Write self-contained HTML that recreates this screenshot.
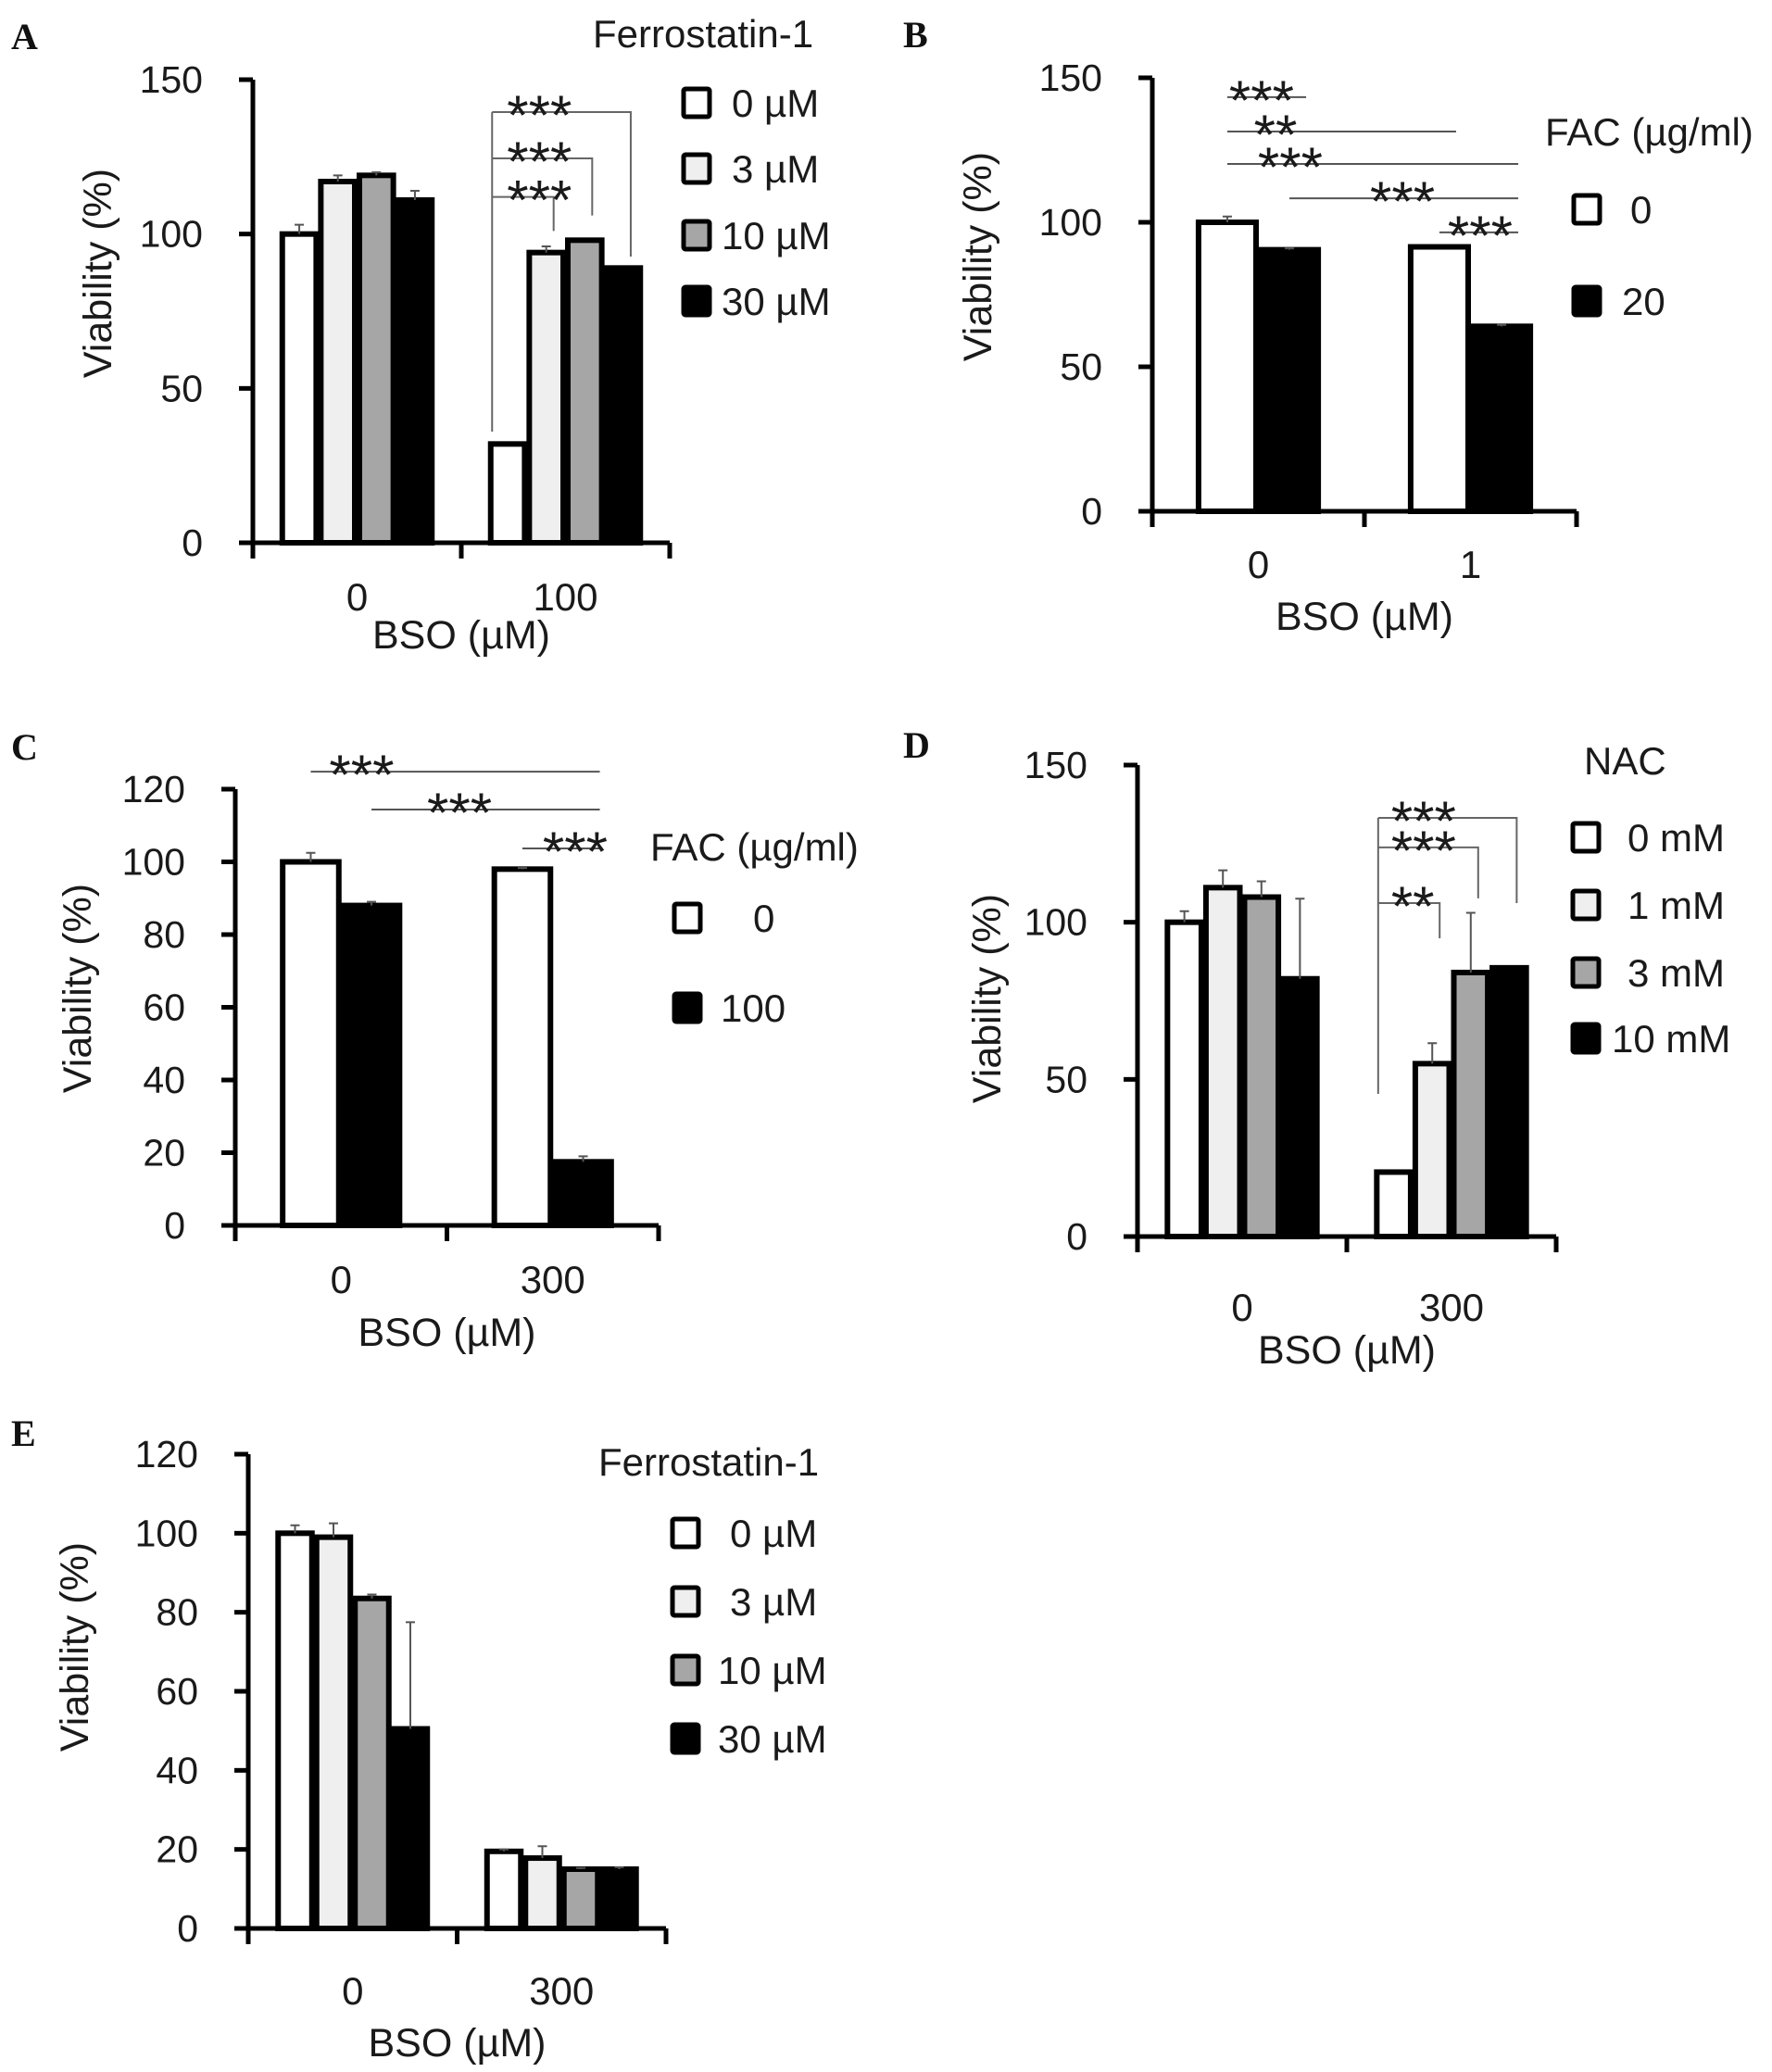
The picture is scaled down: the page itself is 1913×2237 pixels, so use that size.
<!DOCTYPE html>
<html><head><meta charset="utf-8">
<style>
html,body{margin:0;padding:0;background:#fff;}
svg{display:block;}
text{font-family:"Liberation Sans","DejaVu Sans",sans-serif;fill:#1a1a1a;}
.pl{font-family:"Liberation Serif",serif;font-weight:bold;font-size:40px;fill:#111;}
</style></head>
<body>
<svg id="fig" width="1913" height="2237" viewBox="0 0 1913 2237" xmlns="http://www.w3.org/2000/svg"></svg>
<script>
// ---- Panel A data ----
const aCategories=['0','100'];
const aSeries=['0 µM','3 µM','10 µM','30 µM'];
const aVals0=[100,32]; const aVals1=[117,94]; const aVals2=[119,98]; const aVals3=[111,89];
const aErr0=[3,0]; const aErr1=[2,2]; const aErr2=[1,0]; const aErr3=[3,0];
const aTicks=[0,50,100,150];
// ---- Panel B data ----
const bCategories=['0','1'];
const bSeries=['0','20'];
const bVals0=[100,91.5]; const bVals1=[90.5,64];
const bErr0=[2,0]; const bErr1=[0.5,0.5];
const bTicks=[0,50,100,150];
// ---- Panel C data ----
const cCategories=['0','300'];
const cSeries=['0','100'];
const cVals0=[100,98]; const cVals1=[88,17.5];
const cErr0=[2.5,0.3]; const cErr1=[1,1.5];
const cTicks=[0,20,40,60,80,100,120];
// ---- Panel D data ----
const dCategories=['0','300'];
const dSeries=['0 mM','1 mM','3 mM','10 mM'];
const dVals0=[100,20.5]; const dVals1=[111,55]; const dVals2=[108,84]; const dVals3=[82,85.5];
const dErr0=[3.5,0]; const dErr1=[5.5,6.5]; const dErr2=[5,19]; const dErr3=[25.5,0];
const dTicks=[0,50,100,150];
// ---- Panel E data ----
const eCategories=['0','300'];
const eSeries=['0 µM','3 µM','10 µM','30 µM'];
const eVals0=[100,19.5]; const eVals1=[99,17.8]; const eVals2=[83.5,15]; const eVals3=[50.5,15];
const eErr0=[2,0.5]; const eErr1=[3.5,3]; const eErr2=[1,0.3]; const eErr3=[27,0.5];
const eTicks=[0,20,40,60,80,100,120];
// significance annotations (data levels)
const aBrLevels=[139.5,124.5,112]; const aBrTargets=[3,2,1]; const aBrDrops=[92.7,106,101]; const aBrLeftDrop=36; const aBrStars=['***','***','***'];
const dBrLevels=[133.2,123.8,106.1]; const dBrTargets=[3,2,1]; const dBrDrops=[106.1,107.6,94.9]; const dBrLeftDrop=45.4; const dBrStars=['***','***','**'];
const bLineLevels=[143.3,131.4,120.2,108.3,96.5]; const bLineFrom=[[0,0],[0,0],[0,0],[0,1],[1,0]]; const bLineTo=[[0,1],[1,0],[1,1],[1,1],[1,1]]; const bLineStars=['***','**','***','***','***'];
const bStarOffsets=[37,52,68,122,44];
const cLineLevels=[124.8,114.4,103.7]; const cLineFrom=[[0,0],[0,1],[1,0]]; const cLineTo=[[1,1],[1,1],[1,1]]; const cLineStars=['***','***','***'];
const cStarOffsets=[55,95,57];

const FILLS4=['#ffffff','#efefef','#a6a6a6','#000000'];
const FILLS2=['#ffffff','#000000'];
const NS='http://www.w3.org/2000/svg';
const svg=document.getElementById('fig');
function mk(tag,attrs,parent,txt){const e=document.createElementNS(NS,tag);for(const k in attrs)e.setAttribute(k,attrs[k]);if(txt!==undefined)e.textContent=txt;(parent||svg).appendChild(e);return e;}
const STAR_FS=60, STAR_DY=24;

function panel(P){
  const g=mk('g',{});
  
  
  const ymax=P.ticks[P.ticks.length-1];
  const Y=v=>P.y0-(v/ymax)*(P.y0-P.yTop);
  const band=(P.x1-P.x0)/P.cats.length;
  const ns=P.vals.length;
  const bw=band*P.bwFrac;
  const bx=(c,s)=>P.x0+(c+0.5)*band-ns*bw/2+s*bw;
  const bc=(c,s)=>bx(c,s)+bw/2;
  const L=mk('text',{x:P.lx,y:P.ly,class:'pl'},g,P.id);
  
  
  for(let s=0;s<ns;s++){
    for(let c=0;c<P.cats.length;c++){
      const v=P.vals[s][c];
      const r=mk('rect',{x:bx(c,s)+2.5,y:Y(v),width:bw-5,height:Y(0)-Y(v),fill:P.fills[s],stroke:'#000','stroke-width':6},g);
      
      
      const e=P.errs[s][c];
      if(e>0){
        const cx=bc(c,s);
        const el=mk('path',{d:`M${cx},${Y(v)} V${Y(v+e)} M${cx-5},${Y(v+e)} H${cx+5}`,stroke:'#555','stroke-width':2,fill:'none'},g);
        
        
      }
    }
  }
  const ax=mk('path',{d:`M${P.x0},${P.yTop} V${P.y0} M${P.x0-15},${P.y0} H${P.x1}`,stroke:'#000','stroke-width':5,fill:'none'},g);
  
  
  for(const t of P.ticks){
    const tk=mk('path',{d:`M${P.x0-15},${Y(t)} H${P.x0}`,stroke:'#000','stroke-width':5},g);
    
    
    const tl=mk('text',{x:P.x0-54,y:Y(t)+14,'text-anchor':'end','font-size':41},g,String(t));
    
    
  }
  for(let i=0;i<=P.cats.length;i++){
    const xx=P.x0+i*band;
    const tk=mk('path',{d:`M${xx},${P.y0} V${P.y0+17}`,stroke:'#000','stroke-width':5},g);
    
    
  }
  P.cats.forEach((c,i)=>{
    const tl=mk('text',{x:P.x0+(i+0.5)*band,y:P.xtY+15,'text-anchor':'middle','font-size':42},g,c);
    
    
  });
  const xt=mk('text',{x:P.x0+band,y:P.xlY+15,'text-anchor':'middle','font-size':43},g,'BSO (µM)');
  
  
  const yt=mk('text',{x:0,y:0,'text-anchor':'middle','font-size':43,transform:`translate(${P.ylX+15},${P.ylY}) rotate(-90)`},g,'Viability (%)');
  
  
  const lt=mk('text',{x:P.legTitleX,y:P.legTitleY+14,'font-size':42},g,P.legTitle);
  
  
  P.series.forEach((s,i)=>{
    const ly=P.legYs[i];
    const b=mk('rect',{x:P.legBoxX,y:ly-15,width:28,height:30,fill:P.fills[i],stroke:'#000','stroke-width':5,rx:2},g);
    
    
    const t=mk('text',{x:P.legTextX[i],y:ly+15,'font-size':42},g,s);
    
    
  });
  if(P.br){
    const B=P.br;
    const lx=bx(1,0)+4;
    const lv=mk('path',{d:`M${lx},${Y(B.levels[0])} V${Y(B.leftDrop)}`,stroke:'#666','stroke-width':2,fill:'none'},g);
    
    
    B.levels.forEach((lvV,i)=>{
      const rx=bc(1,B.targets[i])+8;
      const p=mk('path',{d:`M${lx},${Y(lvV)} H${rx} V${Y(B.drops[i])}`,stroke:'#666','stroke-width':2,fill:'none'},g);
      
      
      const st=mk('text',{x:lx+B.starDx,y:Y(lvV)+STAR_DY,'font-size':STAR_FS},g,B.stars[i]);
      
      
    });
  }
  if(P.lines){
    const Ln=P.lines;
    Ln.levels.forEach((lvV,i)=>{
      const xa=bc(Ln.from[i][0],Ln.from[i][1]);
      const xb=bc(Ln.to[i][0],Ln.to[i][1])+18;
      const p=mk('path',{d:`M${xa},${Y(lvV)} H${xb}`,stroke:'#555','stroke-width':2},g);
      
      
      const st=mk('text',{x:xa+Ln.offs[i],y:Y(lvV)+STAR_DY,'text-anchor':'middle','font-size':STAR_FS},g,Ln.stars[i]);
      
      
    });
  }
}

panel({id:'A',cats:aCategories,series:aSeries,vals:[aVals0,aVals1,aVals2,aVals3],errs:[aErr0,aErr1,aErr2,aErr3],ticks:aTicks,fills:FILLS4,
  x0:273,x1:723,yTop:86,y0:586,bwFrac:0.185,lx:12,ly:53,xtY:644,xlY:685,ylX:105,ylY:295,
  legTitle:'Ferrostatin-1',legTitleX:640,legTitleY:37,legBoxX:738,legYs:[111,182,254,325],legTextX:[790,790,779,779],
  br:{levels:aBrLevels,targets:aBrTargets,drops:aBrDrops,leftDrop:aBrLeftDrop,stars:aBrStars,starDx:16}});
panel({id:'B',cats:bCategories,series:bSeries,vals:[bVals0,bVals1],errs:[bErr0,bErr1],ticks:bTicks,fills:FILLS2,
  x0:1244,x1:1702,yTop:84,y0:552,bwFrac:0.293,lx:975,ly:51,xtY:609,xlY:665,ylX:1055,ylY:277,
  legTitle:'FAC (µg/ml)',legTitleX:1668,legTitleY:143,legBoxX:1699,legYs:[226,325],legTextX:[1760,1751],
  lines:{levels:bLineLevels,from:bLineFrom,to:bLineTo,stars:bLineStars,offs:bStarOffsets}});
panel({id:'C',cats:cCategories,series:cSeries,vals:[cVals0,cVals1],errs:[cErr0,cErr1],ticks:cTicks,fills:FILLS2,
  x0:254,x1:711,yTop:852,y0:1323,bwFrac:0.287,lx:12,ly:820,xtY:1381,xlY:1438,ylX:83,ylY:1067,
  legTitle:'FAC (µg/ml)',legTitleX:702,legTitleY:915,legBoxX:728,legYs:[991,1088],legTextX:[813,778],
  lines:{levels:cLineLevels,from:cLineFrom,to:cLineTo,stars:cLineStars,offs:cStarOffsets}});
panel({id:'D',cats:dCategories,series:dSeries,vals:[dVals0,dVals1,dVals2,dVals3],errs:[dErr0,dErr1,dErr2,dErr3],ticks:dTicks,fills:FILLS4,
  x0:1228,x1:1680,yTop:826,y0:1335,bwFrac:0.184,lx:975,ly:818,xtY:1411,xlY:1457,ylX:1065,ylY:1078,
  legTitle:'NAC',legTitleX:1710,legTitleY:822,legBoxX:1698,legYs:[904,977,1050,1121],legTextX:[1757,1757,1757,1740],
  br:{levels:dBrLevels,targets:dBrTargets,drops:dBrDrops,leftDrop:dBrLeftDrop,stars:dBrStars,starDx:14}});
panel({id:'E',cats:eCategories,series:eSeries,vals:[eVals0,eVals1,eVals2,eVals3],errs:[eErr0,eErr1,eErr2,eErr3],ticks:eTicks,fills:FILLS4,
  x0:268,x1:719,yTop:1570,y0:2082,bwFrac:0.184,lx:12,ly:1561,xtY:2149,xlY:2205,ylX:80,ylY:1778,
  legTitle:'Ferrostatin-1',legTitleX:646,legTitleY:1579,legBoxX:726,legYs:[1655,1729,1803,1877],legTextX:[788,788,775,775]});
</script>
</body></html>
